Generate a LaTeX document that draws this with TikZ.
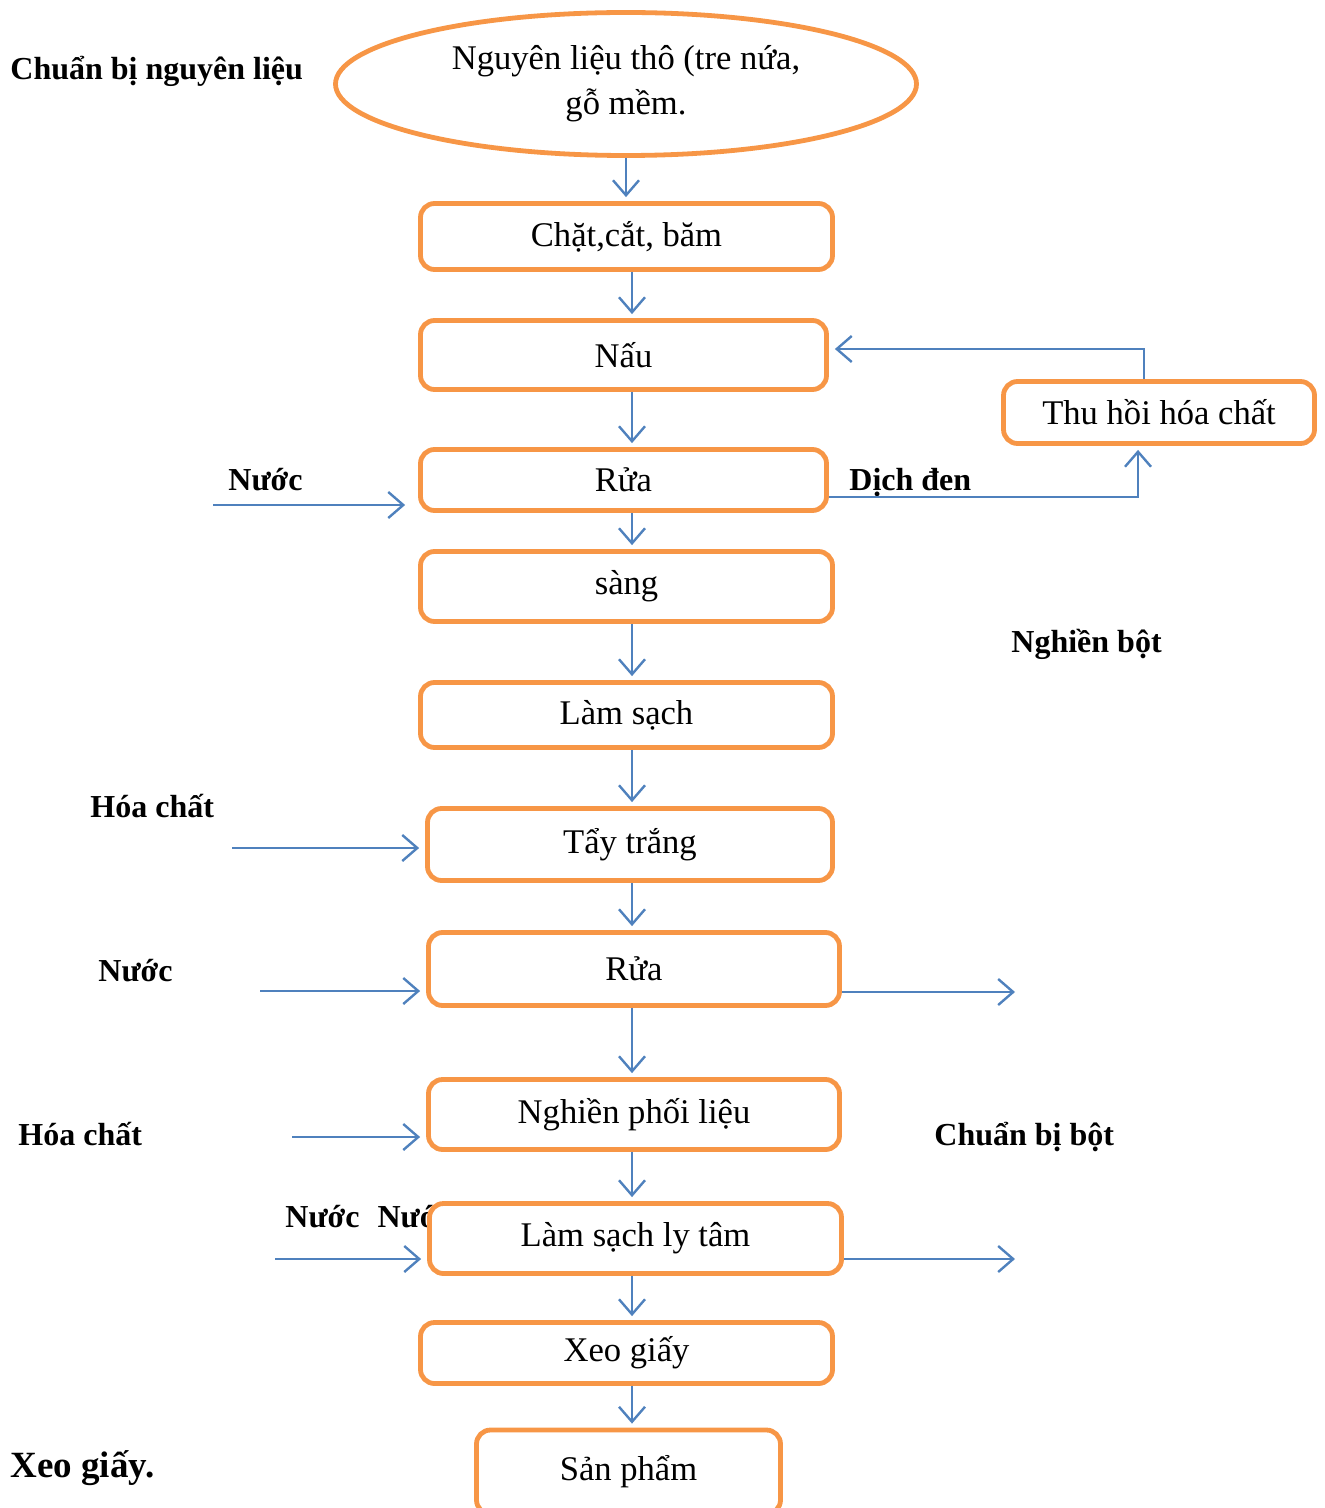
\documentclass[tikz,border=0pt]{standalone}
\usepackage{fontspec}
\setmainfont{Liberation Serif}
\usepackage{tikz}
\usetikzlibrary{arrows.meta}
\usetikzlibrary{shapes.geometric}
\definecolor{boxorange}{RGB}{247,150,70}
\definecolor{flowblue}{RGB}{79,129,189}
\newcommand{\boxfont}{\fontsize{17.3}{22.5}\selectfont}
\newcommand{\labelfont}{\fontsize{16}{19}\selectfont\bfseries}
\tikzset{
    common/.style={draw=boxorange, line width=2.4pt, fill=white, inner sep=0pt, font=\boxfont},
    stage/.style={common, rectangle, rounded corners=7pt},
    source/.style={common, ellipse, align=center},
    sidelabel/.style={anchor=base west, inner sep=0pt, font=\labelfont},
    flow/.style={draw=flowblue, line width=1.2pt, shorten >=2pt,
        -{Straight Barb[length=7.5pt,width=13pt,line width=1.2pt]}},
    feed/.style={flow, shorten >=3pt}
}

\begin{document}
\begin{tikzpicture}[x=0.5pt,y=-0.5pt]
    \useasboundingbox (0,0) rectangle (1324,1508);

    % labels at the side
    \node[sidelabel] (prepraw) at (10,80) {Chuẩn bị nguyên liệu};
    \node[sidelabel] (water1) at (228,490) {Nước};
    \node[sidelabel] (blackliq) at (849,490) {Dịch đen};
    \node[sidelabel] (pulping) at (1011,652) {Nghiền bột};
    \node[sidelabel] (chem1) at (90,817) {Hóa chất};
    \node[sidelabel] (water2) at (98,981) {Nước};
    \node[sidelabel] (chem2) at (18,1145) {Hóa chất};
    \node[sidelabel] (preppulp) at (934,1145) {Chuẩn bị bột};
    \node[sidelabel] (water3) at (285,1227) {Nước\hspace{9pt}Nước};
    \node[sidelabel, font=\fontsize{18.5}{22}\selectfont\bfseries] (papermk) at (10,1477) {Xeo giấy.};

    % process chain
    \node[source, minimum width=290.5pt, minimum height=71.5pt] (raw) at (626,84)
        {Nguyên liệu thô (tre nứa,\\gỗ mềm.};
    \node[stage, minimum width=206pt, minimum height=33pt] (chop) at (626.5,236.5) {Chặt,cắt, băm};
    \node[stage, minimum width=203pt, minimum height=34.5pt] (cook) at (623.5,355) {Nấu};
    \node[stage, minimum width=203pt, minimum height=30.5pt] (wash1) at (623.5,480) {Rửa};
    \node[stage, minimum width=206pt, minimum height=35pt] (screen) at (626.5,586.5) {sàng};
    \node[stage, minimum width=206pt, minimum height=32.5pt] (clean) at (626.5,715) {Làm sạch};
    \node[stage, minimum width=202.5pt, minimum height=36pt] (bleach) at (630,844.5) {Tẩy trắng};
    \node[stage, minimum width=205.5pt, minimum height=36.5pt] (wash2) at (634,969) {Rửa};
    \node[stage, minimum width=205.5pt, minimum height=35pt] (refine) at (634,1114.5) {Nghiền phối liệu};
    \node[stage, minimum width=206pt, minimum height=35pt] (centri) at (635.5,1238.5) {Làm sạch ly tâm};
    \node[stage, minimum width=206pt, minimum height=30.5pt] (sheet) at (626.5,1353) {Xeo giấy};
    \node[stage, minimum width=152pt, minimum height=42pt] (product) at (628.5,1472) {Sản phẩm};
    \node[stage, minimum width=155.5pt, minimum height=31pt] (recover) at (1159,412.5) {Thu hồi hóa chất};

    \coordinate (spine) at (632,0);
    \draw[flow] (raw.south) -- (raw.south |- chop.north);
    \foreach \a/\b in {chop/cook, cook/wash1, wash1/screen, screen/clean, clean/bleach,
                       bleach/wash2, wash2/refine, refine/centri, centri/sheet, sheet/product}
        \draw[flow] (spine |- \a.south) -- (spine |- \b.north);

    % chemical recovery loop
    \coordinate (liqturn) at (1138,497);
    \coordinate (backturn) at (1144,349);
    \draw[flow] (liqturn -| wash1.east) -- (liqturn) -- (liqturn |- recover.south);
    \draw[flow, shorten >=3pt] (recover.north -| backturn) -- (backturn) -- (backturn -| cook.east);

    % inputs and outputs
    \coordinate (in1) at (213,505);
    \coordinate (in2) at (232,848);
    \coordinate (in3) at (260,991);
    \coordinate (in4) at (292,1137);
    \coordinate (in5) at (275,1259);
    \coordinate (out1) at (1015,992);
    \coordinate (out2) at (1015,1259);
    \draw[feed, shorten >=6.5pt] (in1) -- (in1 -| wash1.west);
    \draw[feed] (in2) -- (in2 -| bleach.west);
    \draw[feed] (in3) -- (in3 -| wash2.west);
    \draw[feed] (in4) -- (in4 -| refine.west);
    \draw[feed] (in5) -- (in5 -| centri.west);
    \draw[flow, shorten >=0pt] (out1 -| wash2.east) -- (out1);
    \draw[flow, shorten >=0pt] (out2 -| centri.east) -- (out2);
\end{tikzpicture}
\end{document}
